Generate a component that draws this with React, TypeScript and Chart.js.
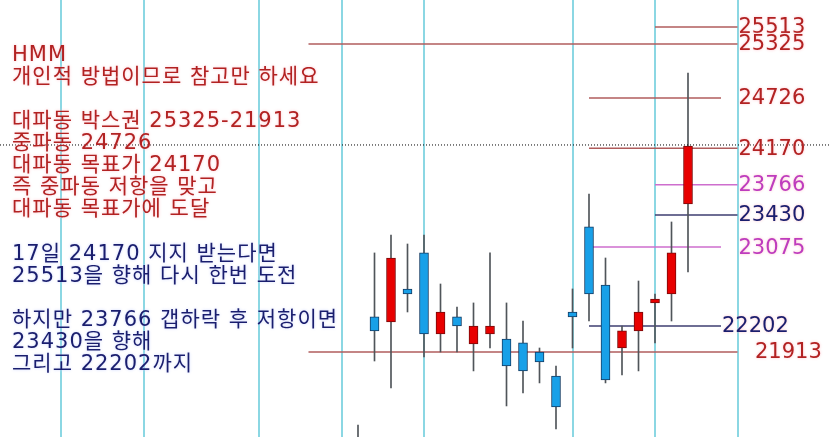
import { useEffect, useRef } from 'react';
import { Chart, registerables } from 'chart.js';

Chart.register(...registerables);

// ---- data ----
const candleIndex = [18, 19, 20, 21, 22, 23, 24, 25, 26, 27, 28, 29, 30, 31, 32, 33, 34, 35, 36, 37, 38];
const opens = [20950, 22301, 22245, 22611, 23010, 22112, 22301, 22002, 22112, 22057, 22013, 21913, 21647, 22356, 23298, 22655, 21957, 22146, 22456, 22555, 23552];
const highs = [21104, 23010, 23209, 23109, 23209, 22666, 22411, 22456, 23010, 22456, 22256, 21957, 21758, 22611, 23663, 22954, 22201, 22699, 22555, 23353, 25003];
const lows = [20750, 21813, 21514, 22356, 21858, 21913, 21913, 21703, 21957, 21315, 21459, 21570, 21060, 21957, 22256, 21570, 21658, 21703, 22013, 22256, 22799];
const closes = [20880, 22146, 22954, 22555, 22112, 22356, 22201, 22201, 22201, 21758, 21703, 21802, 21304, 22301, 22555, 21603, 22146, 22356, 22500, 23010, 24195];

const weekLines = [0, 5, 12, 17, 22, 31, 36, 41];

const levelValues = [25513, 25325, 24726, 24170, 23766, 23430, 23075, 22202, 21913];
const levelStart = [36, 15, 32, 32, 36, 36, 32, 32, 15];
const levelEnd = [41, 41, 40, 41, 41, 41, 40, 40, 41];
const levelLabelAt = [41, 41, 41, 41, 41, 41, 41, 40, 42];
const levelLabels = ['25513', '25325', '24726', '24170', '23766', '23430', '23075', '22202', '21913'];

const crosshairValue = 24206;

const redNotes = [
  'HMM',
  '개인적 방법이므로 참고만 하세요',
  '',
  '대파동 박스권 25325-21913',
  '중파동 24726',
  '대파동 목표가 24170',
  '즉 중파동 저항을 맞고',
  '대파동 목표가에 도달',
];
const blueNotes = [
  '17일 24170 지지 받는다면',
  '25513을 향해 다시 한번 도전',
  '',
  '하지만 23766 갭하락 후 저항이면',
  '23430을 향해',
  '그리고 22202까지',
];

// ---- styles ----
const X_MIN = -3.697;
const X_MAX = 46.606;
const Y_MIN = 20971;
const Y_MAX = 25812;
const BROWN = 'rgb(176,92,92)';
const NAVY = 'rgb(62,62,112)';
const MAGENTA = 'rgb(206,110,206)';
const levelColors = [BROWN, BROWN, BROWN, BROWN, MAGENTA, NAVY, MAGENTA, NAVY, BROWN];
const RED_TXT = 'rgb(178,34,34)';
const NAVY_TXT = 'rgb(26,30,110)';
const MAG_TXT = 'rgb(190,60,190)';
const labelColors = [RED_TXT, RED_TXT, RED_TXT, RED_TXT, MAG_TXT, NAVY_TXT, MAG_TXT, NAVY_TXT, RED_TXT];
const FONT = "21px 'DejaVu Sans', 'Noto Sans CJK KR', sans-serif";

export default function App() {
  const ref = useRef<HTMLCanvasElement | null>(null);

  useEffect(() => {
    document.body.style.margin = '0';
    const canvas = ref.current;
    if (!canvas) return;

    const up = candleIndex.map((_, i) => closes[i] >= opens[i]);

    const datasets: any[] = [];
    datasets.push({
      type: 'bar',
      label: 'body',
      data: candleIndex.map((k, i) => ({ x: k, y: [opens[i], closes[i]] })),
      backgroundColor: up.map((u) => (u ? 'rgb(232,0,0)' : 'rgb(24,160,232)')),
      borderColor: up.map((u) => (u ? 'rgb(120,10,10)' : 'rgb(20,60,100)')),
      borderWidth: 1,
      borderSkipped: false,
      barThickness: 9,
      grouped: false,
      order: 1,
    });
    datasets.push({
      type: 'bar',
      label: 'wick',
      data: candleIndex.map((k, i) => ({ x: k, y: [lows[i], highs[i]] })),
      backgroundColor: 'rgb(80,85,90)',
      borderWidth: 0,
      barThickness: 1,
      grouped: false,
      order: 2,
    });
    levelValues.forEach((v, i) => {
      datasets.push({
        type: 'line',
        label: 'lvl' + v,
        data: [
          { x: levelStart[i], y: v },
          { x: levelEnd[i], y: v },
        ],
        borderColor: levelColors[i],
        borderWidth: 1.5,
        pointRadius: 0,
        fill: false,
        order: 3,
      });
    });
    datasets.push({
      type: 'line',
      label: 'cross',
      data: [
        { x: X_MIN, y: crosshairValue },
        { x: X_MAX, y: crosshairValue },
      ],
      borderColor: '#000',
      borderWidth: 1,
      borderDash: [1, 2],
      pointRadius: 0,
      fill: false,
      order: 0,
    });

    const textPlugin = {
      id: 'notes',
      afterDraw(chart: any) {
        const ctx = chart.ctx;
        const xs = chart.scales.x;
        const ys = chart.scales.y;
        ctx.save();
        ctx.font = FONT;
        ctx.textBaseline = 'middle';
        ctx.textAlign = 'left';
        ctx.shadowBlur = 3;
        // price labels
        levelValues.forEach((v, i) => {
          ctx.fillStyle = labelColors[i];
          ctx.shadowColor = 'rgba(255,190,200,0.9)';
          ctx.fillText(levelLabels[i], xs.getPixelForValue(levelLabelAt[i]) + 1, ys.getPixelForValue(v) + 1);
        });
        // notes
        ctx.letterSpacing = '1px';
        ctx.fillStyle = RED_TXT;
        ctx.shadowColor = 'rgba(255,190,200,0.9)';
        redNotes.forEach((t, i) => {
          if (t) ctx.fillText(t, 12, 56 + i * 22);
        });
        ctx.fillStyle = NAVY_TXT;
        ctx.shadowColor = 'rgba(200,210,255,0.9)';
        blueNotes.forEach((t, i) => {
          if (t) ctx.fillText(t, 12, 255 + i * 22);
        });
        ctx.restore();
      },
    };

    const chart = new Chart(canvas, {
      type: 'bar',
      data: { datasets },
      options: {
        animation: false,
        responsive: false,
        devicePixelRatio: 1,
        layout: { padding: 0 },
        plugins: { legend: { display: false }, tooltip: { enabled: false } },
        scales: {
          x: {
            type: 'linear',
            min: X_MIN,
            max: X_MAX,
            offset: false,
            display: true,
            ticks: { display: false },
            border: { display: false },
            grid: { color: 'rgba(110,205,220,0.8)', lineWidth: 2, drawTicks: false, offset: false },
            afterBuildTicks: (axis: any) => {
              axis.ticks = weekLines.map((v) => ({ value: v }));
            },
          },
          y: {
            type: 'linear',
            min: Y_MIN,
            max: Y_MAX,
            display: false,
          },
        },
      },
      plugins: [textPlugin],
    } as any);

    return () => chart.destroy();
  }, []);

  return <canvas ref={ref} width={830} height={437} style={{ display: 'block' }} />;
}
